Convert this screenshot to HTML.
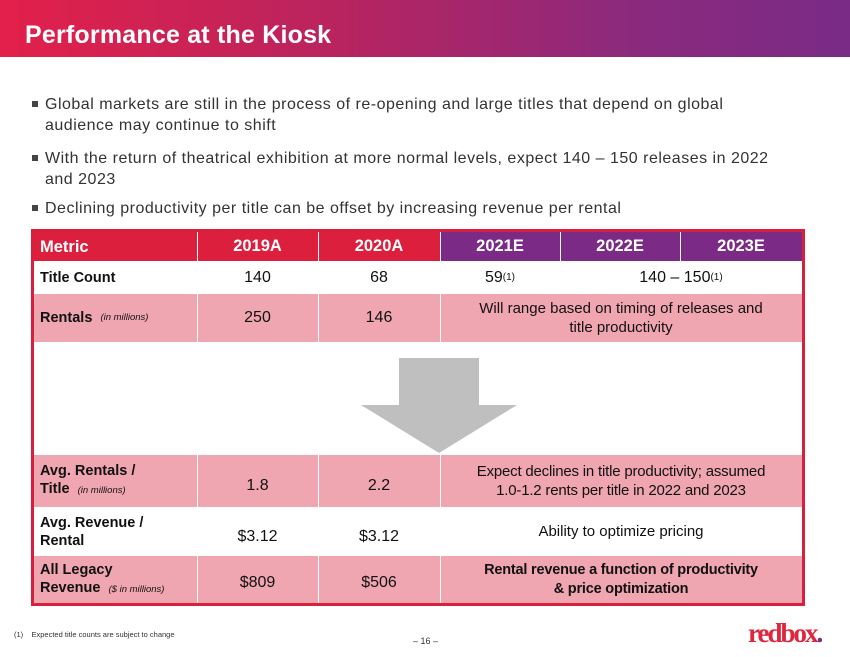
<!DOCTYPE html>
<html><head><meta charset="utf-8">
<style>
body{margin:0;width:850px;height:657px;overflow:hidden;background:#fff;font-family:"Liberation Sans",sans-serif;position:relative}
.banner{position:absolute;left:0;top:0;width:850px;height:57px;background:linear-gradient(90deg,#e3204a 0%,#b8245f 40%,#8a2a7e 75%,#7a2b86 100%)}
.banner h1{margin:0;position:absolute;left:25px;top:21px;color:#fff;font-size:25px;font-weight:bold;letter-spacing:0.2px}
.bul{position:absolute;left:33px;font-size:16px;color:#333;line-height:21px;width:800px;letter-spacing:0.5px;white-space:nowrap}
.bul:before{content:"";position:absolute;left:-1px;top:7px;width:6px;height:6px;background:#444}
.bul span{display:block;padding-left:12px}
.tbl{position:absolute;left:31px;top:229px;width:768px;height:371px;border:3px solid #d91f3e}
.c{position:absolute;display:flex;align-items:center;justify-content:center;text-align:center;font-size:16px;color:#111;box-sizing:border-box}
.l{justify-content:flex-start;padding-left:6px;font-weight:bold;font-size:14.5px;text-align:left;line-height:18px}
.h{color:#fff;font-weight:bold;font-size:16.5px}
.it{font-style:italic;font-weight:normal;font-size:9.5px}
.pk{background:#f0a6b0}
.div{position:absolute;width:1px;background:#fff}
.m{font-size:15px;line-height:19px}
</style></head><body>
<div class="banner"><h1>Performance at the Kiosk</h1></div>
<div class="bul" style="top:94px"><span>Global markets are still in the process of re-opening and large titles that depend on global<br>audience may continue to shift</span></div>
<div class="bul" style="top:148px"><span>With the return of theatrical exhibition at more normal levels, expect 140 – 150 releases in 2022<br>and 2023</span></div>
<div class="bul" style="top:198px"><span>Declining productivity per title can be offset by increasing revenue per rental</span></div>

<div class="tbl">
<div class="c h l" style="left:0;top:0;width:163px;height:29px;background:#dc1f3d;font-size:16.5px">Metric</div>
<div class="c h" style="left:163px;top:0;width:121px;height:29px;background:#dc1f3d">2019A</div>
<div class="c h" style="left:284px;top:0;width:122px;height:29px;background:#dc1f3d">2020A</div>
<div class="c h" style="left:406px;top:0;width:120px;height:29px;background:#7b2a86">2021E</div>
<div class="c h" style="left:526px;top:0;width:120px;height:29px;background:#7b2a86">2022E</div>
<div class="c h" style="left:646px;top:0;width:122px;height:29px;background:#7b2a86">2023E</div>

<div class="c l" style="left:0;top:29px;width:163px;height:33px">Title Count</div>
<div class="c" style="left:163px;top:29px;width:121px;height:33px">140</div>
<div class="c" style="left:284px;top:29px;width:122px;height:33px">68</div>
<div class="c" style="left:406px;top:29px;width:120px;height:33px">59<sup style="font-size:10px">(1)</sup></div>
<div class="c" style="left:526px;top:29px;width:242px;height:33px">140 – 150<sup style="font-size:10px">(1)</sup></div>

<div class="pk" style="position:absolute;left:0;top:62px;width:768px;height:48px"></div>
<div class="c l" style="left:0;top:62px;width:163px;height:48px">Rentals&nbsp;&nbsp;<span class="it">(in millions)</span></div>
<div class="c" style="left:163px;top:62px;width:121px;height:48px">250</div>
<div class="c" style="left:284px;top:62px;width:122px;height:48px">146</div>
<div class="c m" style="left:406px;top:62px;width:362px;height:48px">Will range based on timing of releases and<br>title productivity</div>

<svg style="position:absolute;left:325px;top:126px" width="160" height="96"><polygon points="40,0 120,0 120,47 158,47 80,95 2,47 40,47" fill="#bfbfbf"/></svg>

<div class="pk" style="position:absolute;left:0;top:223px;width:768px;height:52px"></div>
<div class="c l" style="left:0;top:223px;width:163px;height:52px"><div>Avg. Rentals /<br>Title&nbsp;&nbsp;<span class="it">(in millions)</span></div></div>
<div class="c" style="left:163px;top:223px;width:121px;height:52px;padding-top:10px">1.8</div>
<div class="c" style="left:284px;top:223px;width:122px;height:52px;padding-top:10px">2.2</div>
<div class="c m" style="left:406px;top:223px;width:362px;height:52px;letter-spacing:-0.2px">Expect declines in title productivity; assumed<br>1.0-1.2 rents per title in 2022 and 2023</div>

<div class="c l" style="left:0;top:275px;width:163px;height:49px"><div>Avg. Revenue /<br>Rental</div></div>
<div class="c" style="left:163px;top:275px;width:121px;height:49px;padding-top:10px">$3.12</div>
<div class="c" style="left:284px;top:275px;width:122px;height:49px;padding-top:10px">$3.12</div>
<div class="c m" style="left:406px;top:275px;width:362px;height:49px">Ability to optimize pricing</div>

<div class="pk" style="position:absolute;left:0;top:324px;width:768px;height:47px"></div>
<div class="c l" style="left:0;top:324px;width:163px;height:47px"><div>All Legacy<br>Revenue&nbsp;&nbsp;<span class="it">($ in millions)</span></div></div>
<div class="c" style="left:163px;top:324px;width:121px;height:47px;padding-top:6px">$809</div>
<div class="c" style="left:284px;top:324px;width:122px;height:47px;padding-top:6px">$506</div>
<div class="c" style="left:406px;top:324px;width:362px;height:47px;font-weight:bold;font-size:14.5px;line-height:19px;letter-spacing:-0.2px">Rental revenue a function of productivity<br>&amp; price optimization</div>

<div class="div" style="left:163px;top:0;height:110px"></div>
<div class="div" style="left:284px;top:0;height:110px"></div>
<div class="div" style="left:526px;top:0;height:29px"></div>
<div class="div" style="left:646px;top:0;height:29px"></div>
<div class="div" style="left:406px;top:0;height:110px"></div>
<div class="div" style="left:163px;top:223px;height:148px"></div>
<div class="div" style="left:284px;top:223px;height:148px"></div>
<div class="div" style="left:406px;top:223px;height:148px"></div>
<div style="position:absolute;left:0;top:110px;width:768px;height:1px;background:#fff"></div>
</div>

<div style="position:absolute;left:14px;top:630px;font-size:7.5px;color:#333">(1)&nbsp;&nbsp;&nbsp;&nbsp;Expected title counts are subject to change</div>
<div style="position:absolute;left:413px;top:636px;font-size:9px;color:#333">– 16 –</div>
<div style="position:absolute;left:748px;top:618px;font-size:27px;font-family:'Liberation Serif',serif;font-weight:bold;color:#e0263f;letter-spacing:-2px">redbox<span style="color:#7b2a86">.</span></div>
</body></html>
